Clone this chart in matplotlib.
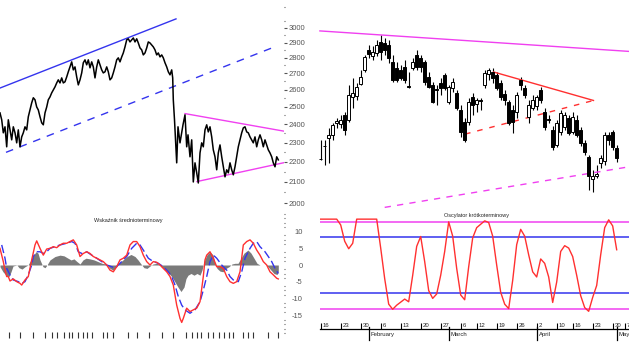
import matplotlib
matplotlib.use("Agg")
import matplotlib.pyplot as plt
from matplotlib.patches import Rectangle
from matplotlib.ticker import FixedLocator, FixedFormatter, NullFormatter, MultipleLocator
from matplotlib.transforms import blended_transform_factory

plt.rcParams['font.family'] = ['Liberation Sans', 'DejaVu Sans']

# ---- left panel: long-term close (day number, price)
LEFT_DAY = [0, 1.7, 3.3, 5, 6.7, 8.3, 10, 11.7, 13.3, 15, 16.7, 18.3, 20, 21.7, 23.3, 25, 26.7, 28.3, 30,
            31.7, 33.3, 35, 36.7, 38.3, 40, 41.7, 43.3, 45, 46.7, 48.3, 50, 51.7, 53.3, 55, 56.7, 58.3, 60,
            61.7, 63.3, 65, 66.7, 68.3, 70, 71.7, 73.3, 75, 76.7, 78.3, 80, 81.7, 83.3, 85, 86.7, 88.3, 90,
            91.7, 93.3, 95, 96.7, 98.3, 100, 101.7, 103.3, 105, 106.7, 108.3, 110, 111.7, 113.3, 115, 116.7,
            118.3, 120, 121.7, 123.3, 125, 126.7, 128.3, 130, 131.7, 133.3, 135, 136.7, 138.3, 140, 141.7,
            143.3, 145, 146.7, 148.3, 150, 151.7, 153.3, 155, 156.7, 158.3, 160, 161.7, 163.3, 165, 166.7,
            168.3, 170, 171.7, 172.7, 173.3, 174.5, 175.5, 176.7, 178, 180, 181.7, 183, 185, 186.7, 188, 190,
            191.7, 193.3, 195, 196.7, 198.3, 200, 201.7, 203.3, 205, 206.7, 208.3, 210, 211.7, 213.3, 215,
            216.7, 218.3, 220, 221.7, 223.3, 225, 226.7, 228.3, 230, 231.7, 233.3, 235, 236.7, 238.3, 240,
            241.7, 243.3, 245, 246.7, 248.3, 250, 251.7, 253.3, 255, 256.7, 258.3, 260, 261.7, 263.3, 265,
            266.7, 268.3, 270, 271.7, 273.3, 275, 276.7, 278.3]
LEFT_PRICE = [2464, 2425, 2353, 2386, 2278, 2425, 2369, 2315, 2386, 2353, 2299, 2369, 2278, 2331, 2353, 2386,
              2369, 2442, 2481, 2522, 2552, 2540, 2498, 2481, 2442, 2408, 2397, 2464, 2498, 2540, 2557, 2581,
              2599, 2617, 2641, 2660, 2641, 2672, 2641, 2648, 2678, 2710, 2741, 2773, 2722, 2741, 2678, 2629,
              2660, 2703, 2767, 2786, 2754, 2786, 2735, 2773, 2741, 2672, 2741, 2786, 2754, 2722, 2703, 2710,
              2741, 2710, 2660, 2672, 2703, 2741, 2786, 2799, 2773, 2805, 2831, 2871, 2918, 2925, 2904, 2918,
              2931, 2904, 2925, 2897, 2864, 2851, 2818, 2831, 2864, 2904, 2897, 2884, 2871, 2851, 2818, 2831,
              2805, 2818, 2799, 2767, 2741, 2710, 2691, 2722, 2672, 2540, 2425, 2315, 2195, 2386, 2299, 2353,
              2397, 2453, 2278, 2342, 2226, 2315, 2100, 2195, 2145, 2095, 2246, 2299, 2278, 2369, 2397, 2358,
              2386, 2331, 2262, 2226, 2160, 2246, 2288, 2226, 2175, 2125, 2160, 2145, 2195, 2160, 2135, 2175,
              2226, 2278, 2315, 2353, 2380, 2386, 2358, 2353, 2331, 2315, 2299, 2331, 2278, 2315, 2342, 2315,
              2278, 2315, 2288, 2262, 2246, 2226, 2195, 2175, 2226, 2210]

# trend lines on the left panel: (day0, day1), (price0, price1)
CHANNEL_TOP = ((0, 176), (2610, 3063))
CHANNEL_LOW = ((6, 275), (2249, 2872))
TRI_TOP = ((185, 285), (2460, 2361))
TRI_LOW = ((197, 285), (2102, 2197))

# ---- medium-term indicator (left bottom)
MACD_DAY = [0, 3.3, 5, 6.7, 8.3, 10, 13.3, 16.7, 20, 21.7, 25, 28.3, 31.7, 35, 36.7, 40, 43.3, 46.7, 50, 53.3,
            56.7, 60, 63.3, 66.7, 70, 73.3, 76.7, 80, 83.3, 86.7, 90, 93.3, 96.7, 100, 103.3, 106.7, 110,
            113.3, 116.7, 120, 123.3, 126.7, 130, 133.3, 136.7, 140, 143.3, 146.7, 150, 153.3, 156.7, 160,
            163.3, 166.7, 170, 173.3, 176.7, 180, 181.7, 183.3, 186.7, 190, 193.3, 196.7, 200, 203.3, 205,
            206.7, 210, 213.3, 216.7, 220, 223.3, 226.7, 230, 233.3, 236.7, 240, 243.3, 246.7, 250, 253.3,
            256.7, 260, 263.3, 266.7, 270, 273.3, 276.7, 278.3]
MACD = [4.9, 1.0, -1.5, -3.4, -3.4, -4.7, -4.1, -4.9, -5.4, -5.9, -4.4, -3.4, 1.5, 5.9, 7.1, 4.9, 2.9, 4.7,
        4.9, 5.4, 5.1, 5.9, 6.4, 6.4, 6.9, 7.4, 5.9, 2.5, 3.4, 3.9, 3.4, 2.5, 2.0, 1.5, 1.0, 0.0, -1.5, -2.0,
        -0.5, 1.5, 2.0, 2.9, 5.9, 6.9, 6.9, 5.4, 2.9, 1.0, 0.0, 1.0, 0.8, 0.0, -1.0, -2.0, -3.4, -5.9, -11.8,
        -15.7, -16.9, -15.7, -12.7, -13.7, -13.2, -12.7, -10.8, -3.4, 1.5, 2.9, 3.9, 2.0, -0.5, -0.5, -1.0,
        -3.4, -4.9, -5.4, -4.9, -2.0, 5.9, 6.9, 7.4, 6.4, 4.4, 2.9, 1.0, 0.0, -2.0, -2.9, -3.9, -4.1]
SIGNAL_DAY = [1.7, 5, 6.7, 10, 13.3, 18.3, 21.7, 25, 28.3, 31.7, 33.3, 36.7, 40, 43.3, 46.7, 50, 55, 60, 66.7,
              71.7, 75, 78.3, 81.7, 86.7, 91.7, 96.7, 101.7, 106.7, 111.7, 115, 118.3, 121.7, 126.7, 131.7,
              136.7, 140, 143.3, 148.3, 153.3, 158.3, 163.3, 168.3, 171.7, 175, 178.3, 181.7, 185, 190, 195,
              200, 203.3, 206.7, 210, 213.3, 216.7, 221.7, 226.7, 230, 233.3, 238.3, 241.7, 245, 250, 253.3,
              256.7, 260, 265, 268.3, 271.7, 275, 278.3]
SIGNAL = [5.9, 2.0, -1.0, -2.9, -4.4, -4.9, -5.4, -4.9, -2.9, 0.0, 2.5, 3.9, 3.9, 3.4, 3.9, 4.9, 5.4, 5.9, 6.4,
          6.9, 6.4, 3.9, 3.4, 3.9, 2.9, 2.0, 1.0, 0.0, -0.5, -1.0, 0.0, 1.0, 2.5, 4.9, 6.4, 5.9, 4.4, 2.0, 1.0,
          0.5, -0.5, -2.0, -3.4, -5.9, -9.3, -11.8, -13.2, -14.2, -13.2, -10.8, -7.4, -3.4, 1.0, 2.9, 2.0, 0.0,
          -1.5, -3.4, -4.4, -4.9, -2.0, 2.0, 4.9, 6.4, 6.9, 5.4, 3.9, 2.5, 1.0, -1.0, -2.5]
HIST_DAY = [0, 3, 6, 9, 11, 13, 17, 19, 22, 25, 28, 31, 34, 36, 38, 40, 43, 45, 47, 50, 55, 60, 64, 68, 71, 74,
            77, 80, 83, 86, 90, 94, 98, 102, 106, 110, 113, 116, 119, 123, 127, 131, 135, 138, 141, 144, 147,
            150, 153, 157, 160, 163, 166, 169, 172, 175, 178, 181, 184, 186, 188, 191, 194, 197, 200, 202, 204,
            207, 210, 213, 215, 217, 220, 223, 226, 229, 232, 235, 238, 241, 244, 248, 251, 254, 257, 260, 263,
            266, 268, 271, 274, 277, 278.3]
HIST = [-0.5, -2.0, -3.0, -3.4, -2.0, -0.3, 0.0, -0.8, -1.2, -0.5, 0.0, 1.5, 3.0, 3.9, 3.5, 1.5, -0.5, -0.8,
        0.0, 1.5, 2.5, 2.9, 2.7, 2.0, 1.5, 1.8, 1.0, 0.3, 1.5, 2.0, 1.8, 1.5, 1.0, 0.5, 0.3, -1.0, -1.5, -0.5,
        0.5, 1.5, 2.5, 3.1, 2.5, 1.5, 0.3, -0.8, -1.0, -0.3, 0.3, 0.5, 0.0, -0.8, -1.5, -2.5, -3.5, -5.0, -6.5,
        -7.8, -6.5, -4.0, -3.0, -2.5, -3.0, -2.5, -3.0, -1.5, 1.0, 3.0, 3.9, 3.0, 0.5, -1.0, -1.8, -2.0, -1.0,
        -0.5, 0.3, 0.5, 0.5, 2.0, 3.5, 4.4, 3.5, 2.0, 0.5, 0.0, 0.0, 0.0, -0.5, -1.5, -2.5, -2.8, -2.0]
LB_TICKS = [9, 20, 33, 45, 52, 57, 64, 69, 72, 78, 83, 87, 92, 103, 107, 113, 128, 137, 149, 162, 173, 186,
            192, 197, 201, 208, 213, 219, 224, 229, 233, 243, 248, 253, 268, 278]

# ---- right panel: daily candles, Jan 16 .. May 2
OPEN = [2216, 2284, 2326, 2342, 2408, 2403, 2453, 2425, 2557, 2563, 2635, 2722, 2851, 2812, 2831, 2904, 2897,
        2884, 2773, 2735, 2722, 2741, 2623, 2735, 2818, 2799, 2773, 2678, 2629, 2602, 2641, 2691, 2528, 2611,
        2581, 2481, 2414, 2414, 2557, 2516, 2536, 2629, 2697, 2710, 2691, 2641, 2575, 2528, 2481, 2470, 2660,
        2611, 2442, 2493, 2504, 2599, 2470, 2428, 2369, 2288, 2358, 2386, 2436, 2358, 2425, 2369, 2299, 2226,
        2115, 2130, 2195, 2205, 2342, 2358, 2272]
HIGH = [2315, 2315, 2380, 2408, 2436, 2453, 2470, 2629, 2672, 2641, 2722, 2818, 2884, 2877, 2918, 2952, 2931,
        2918, 2818, 2773, 2754, 2786, 2710, 2799, 2851, 2818, 2786, 2710, 2648, 2629, 2672, 2703, 2629, 2672,
        2599, 2510, 2436, 2552, 2581, 2552, 2552, 2722, 2735, 2735, 2710, 2660, 2599, 2540, 2510, 2587, 2678,
        2629, 2540, 2569, 2569, 2617, 2493, 2453, 2391, 2425, 2481, 2470, 2453, 2470, 2453, 2386, 2315, 2236,
        2160, 2185, 2236, 2358, 2358, 2369, 2288]
LOW = [2212, 2185, 2195, 2315, 2380, 2380, 2342, 2414, 2493, 2540, 2629, 2710, 2799, 2786, 2812, 2786, 2818,
       2767, 2648, 2648, 2660, 2641, 2611, 2722, 2722, 2710, 2629, 2611, 2522, 2510, 2569, 2599, 2516, 2587,
       2481, 2331, 2304, 2397, 2453, 2470, 2481, 2611, 2660, 2641, 2599, 2540, 2510, 2397, 2353, 2436, 2599,
       2552, 2408, 2481, 2481, 2522, 2369, 2408, 2262, 2278, 2342, 2369, 2342, 2347, 2331, 2283, 2236, 2062,
       2052, 2120, 2170, 2185, 2288, 2262, 2200]
CLOSE = [2214, 2282, 2342, 2397, 2419, 2425, 2369, 2569, 2581, 2617, 2678, 2805, 2825, 2838, 2884, 2838, 2851,
         2799, 2660, 2660, 2672, 2660, 2617, 2773, 2741, 2741, 2648, 2617, 2528, 2596, 2611, 2611, 2617, 2648,
         2493, 2358, 2315, 2528, 2510, 2540, 2532, 2703, 2722, 2672, 2611, 2557, 2540, 2408, 2414, 2569, 2629,
         2569, 2510, 2540, 2557, 2540, 2386, 2422, 2278, 2408, 2464, 2453, 2353, 2442, 2342, 2299, 2252, 2130,
         2130, 2140, 2221, 2342, 2315, 2278, 2221]

# trend lines on the candle panel: (index0, index1), (price0, price1)
R_TOP = ((-0.2, 77.1), (2979, 2841))
R_LOW = ((16, 76.8), (1980, 2174))
WEDGE_TOP = ((43.2, 68.2), (2709, 2536))
WEDGE_LOW = ((36.1, 68.2), (2346, 2536))

# ---- short-term oscillator (right bottom), one value per session
OSC = [13.5, 13.5, 13.5, 13.5, 13.5, 11.8, 7.0, 4.8, 6.4, 13.5, 13.5, 13.5, 13.5, 13.5, 13.5, 5.0, -4.0,
       -11.5, -13.0, -11.8, -10.9, -10.0, -10.8, -3.0, 5.5, 8.4, 1.0, -7.5, -9.8, -8.5, -3.0, 4.0, 12.7, 8.5,
       -1.0, -8.8, -10.2, -0.5, 8.0, 11.0, 12.0, 13.0, 12.5, 8.5, 0.0, -8.0, -11.5, -12.8, -4.5, 6.0, 10.5,
       8.5, 3.0, -2.0, -3.5, 1.8, 0.5, -3.5, -11.0, -5.0, 4.0, 5.7, 5.0, 2.5, -3.0, -9.0, -12.5, -13.6, -9.5,
       -6.0, 3.0, 11.0, 13.3, 11.5, 4.5]
OSC_OUTER = 12.8
OSC_INNER = 8.3

DAY_TICKS = [0, 5, 10, 15, 20, 25, 30, 35, 39, 44, 49, 54, 59, 63, 68, 73, 76]
DAY_LABELS = ['16', '23', '30', '6', '13', '20', '27', '6', '12', '19', '26', '2', '10', '16', '23', '30', '7']
MONTH_TICKS = [12, 32, 54, 74]
MONTH_LABELS = ['February', 'March', 'April', 'May']

PRICE_TICKS = list(range(2000, 3001, 100))
OSC_TICKS = [-15, -10, -5, 0, 5, 10]

BLUE = '#3434ee'
MAGENTA = '#f040f0'
RED = '#ff3030'
GREY = '#555555'

W, H = 629, 354


def box(x0, y0, x1, y1):
    return [x0 / W, 1 - y1 / H, (x1 - x0) / W, (y1 - y0) / H]


fig = plt.figure(figsize=(W / 100, H / 100), dpi=100)
fig.patch.set_facecolor('white')

ax_lt = fig.add_axes(box(0, 0, 284, 210))
ax_rt = fig.add_axes(box(318, 0, 629, 210))
ax_lb = fig.add_axes(box(0, 212, 284, 335))
ax_rb = fig.add_axes(box(318, 212, 629, 329))

for ax in (ax_lt, ax_rt, ax_lb, ax_rb):
    for s in ax.spines.values():
        s.set_visible(False)
    ax.set_facecolor('none')

# ---------------- left top: price line with channel and triangle
for ax in (ax_lt, ax_rt):
    ax.set_yscale('log')
    ax.set_ylim(1968, 3200)
ax_lt.set_xlim(0, 284)
ax_lt.plot(LEFT_DAY, LEFT_PRICE, color='black', lw=1.1, zorder=3)
ax_lt.plot(*CHANNEL_TOP, color=BLUE, lw=1.0)
ax_lt.plot(*CHANNEL_LOW, color=BLUE, lw=1.0, dashes=(5.5, 5))
ax_lt.plot(*TRI_TOP, color=MAGENTA, lw=1.0)
ax_lt.plot(*TRI_LOW, color=MAGENTA, lw=1.0)

ax_lt.xaxis.set_visible(False)
ax_lt.yaxis.tick_right()
ax_lt.yaxis.set_major_locator(FixedLocator(PRICE_TICKS))
ax_lt.yaxis.set_major_formatter(FixedFormatter([str(v) for v in PRICE_TICKS]))
ax_lt.yaxis.set_minor_locator(FixedLocator([v + 50 for v in range(2000, 3101, 100)]))
ax_lt.yaxis.set_minor_formatter(NullFormatter())
ax_lt.tick_params(axis='y', which='major', direction='out', length=2.2, width=0.8, pad=1.2,
                  colors=GREY, labelsize=5.5)
ax_lt.tick_params(axis='y', which='minor', direction='out', length=0.8, width=0.8, colors=GREY)

# ---------------- right top: candles
ax_rt.set_xlim(-0.675, 77.08)
ax_rt.set_xticks([])
ax_rt.yaxis.set_major_locator(FixedLocator([]))
ax_rt.yaxis.set_minor_locator(FixedLocator([]))
for i, (o, h, l, c) in enumerate(zip(OPEN, HIGH, LOW, CLOSE)):
    ax_rt.vlines(i, l, h, color='black', lw=0.8, zorder=2)
    face = 'white' if c >= o else 'black'
    ax_rt.add_patch(Rectangle((i - 0.38, min(o, c)), 0.76, max(abs(c - o), 1.5),
                              facecolor=face, edgecolor='black', lw=0.7, zorder=3))
ax_rt.plot(*R_TOP, color=MAGENTA, lw=1.0)
ax_rt.plot(*R_LOW, color=MAGENTA, lw=1.0, dashes=(4.5, 4.5))
ax_rt.plot(*WEDGE_TOP, color=RED, lw=1.0)
ax_rt.plot(*WEDGE_LOW, color=RED, lw=1.0, dashes=(4, 5))

# ---------------- left bottom: medium-term indicator
ax_lb.set_xlim(0, 284)
ax_lb.set_ylim(-20.6, 15.6)
ax_lb.fill_between(HIST_DAY, 0, HIST, color='#7a7a7a', lw=0, zorder=1)
ax_lb.plot(SIGNAL_DAY, SIGNAL, color=BLUE, lw=1.0, dashes=(6, 2.5), zorder=2)
ax_lb.plot(MACD_DAY, MACD, color=RED, lw=1.0, zorder=3)
ax_lb.yaxis.tick_right()
ax_lb.set_yticks(OSC_TICKS)
ax_lb.set_yticklabels([str(v) for v in OSC_TICKS])
for lab in ax_lb.get_yticklabels():
    lab.set_horizontalalignment('right')
ax_lb.yaxis.set_minor_locator(MultipleLocator(1.25))
ax_lb.tick_params(axis='y', which='major', length=0, pad=13.5, colors=GREY, labelsize=5.5)
ax_lb.tick_params(axis='y', which='minor', direction='out', length=0.8, width=0.8, colors=GREY)
ax_lb.set_xticks(LB_TICKS)
ax_lb.set_xticklabels([])
ax_lb.tick_params(axis='x', direction='inout', length=4, width=0.8, colors='#333333')
ax_lb.text(128 / 284, 1 - 8.5 / 123, 'Wskaźnik średnioterminowy', transform=ax_lb.transAxes,
           ha='center', va='center', fontsize=4, color='#222222')

# ---------------- right bottom: short-term oscillator
ax_rb.set_xlim(-0.675, 77.08)
ax_rb.set_ylim(-18.8, 15.6)
for lvl in (OSC_OUTER, -OSC_OUTER):
    ax_rb.hlines(lvl, -0.2, 77.08, color=MAGENTA, lw=1.1)
for lvl in (OSC_INNER, -OSC_INNER):
    ax_rb.hlines(lvl, -0.2, 77.08, color=BLUE, lw=1.1)
ax_rb.plot(range(len(OSC)), OSC, color=RED, lw=1.0, zorder=3)
ax_rb.set_yticks([])
ax_rb.spines['bottom'].set_visible(True)
ax_rb.spines['bottom'].set_bounds(-0.2, 77.08)
ax_rb.spines['bottom'].set_linewidth(0.9)
ax_rb.set_xticks(DAY_TICKS)
ax_rb.set_xticklabels([])
ax_rb.tick_params(axis='x', direction='in', length=4.5, width=0.8, colors='black')
tr = blended_transform_factory(ax_rb.transData, ax_rb.transAxes)
for pos, lab in zip(DAY_TICKS, DAY_LABELS):
    ax_rb.text(pos + 0.45, 0.012, lab, transform=tr, ha='left', va='bottom', fontsize=4.3, color='#222222')
for pos, lab in zip(MONTH_TICKS, MONTH_LABELS):
    ax_rb.plot([pos, pos], [0.02, -0.095], transform=tr, color='black', lw=0.9, clip_on=False)
    ax_rb.text(pos + 0.45, -0.045, lab, transform=tr, ha='left', va='center', fontsize=4.3, color='#222222')
title_tr = blended_transform_factory(fig.transFigure, ax_rb.transAxes)
ax_rb.text(476 / W, 1 - 3 / 117, 'Oscylator krótkoterminowy', transform=title_tr,
           ha='center', va='center', fontsize=4, color='#222222')

fig.savefig('out.png', dpi=100, facecolor='white')
